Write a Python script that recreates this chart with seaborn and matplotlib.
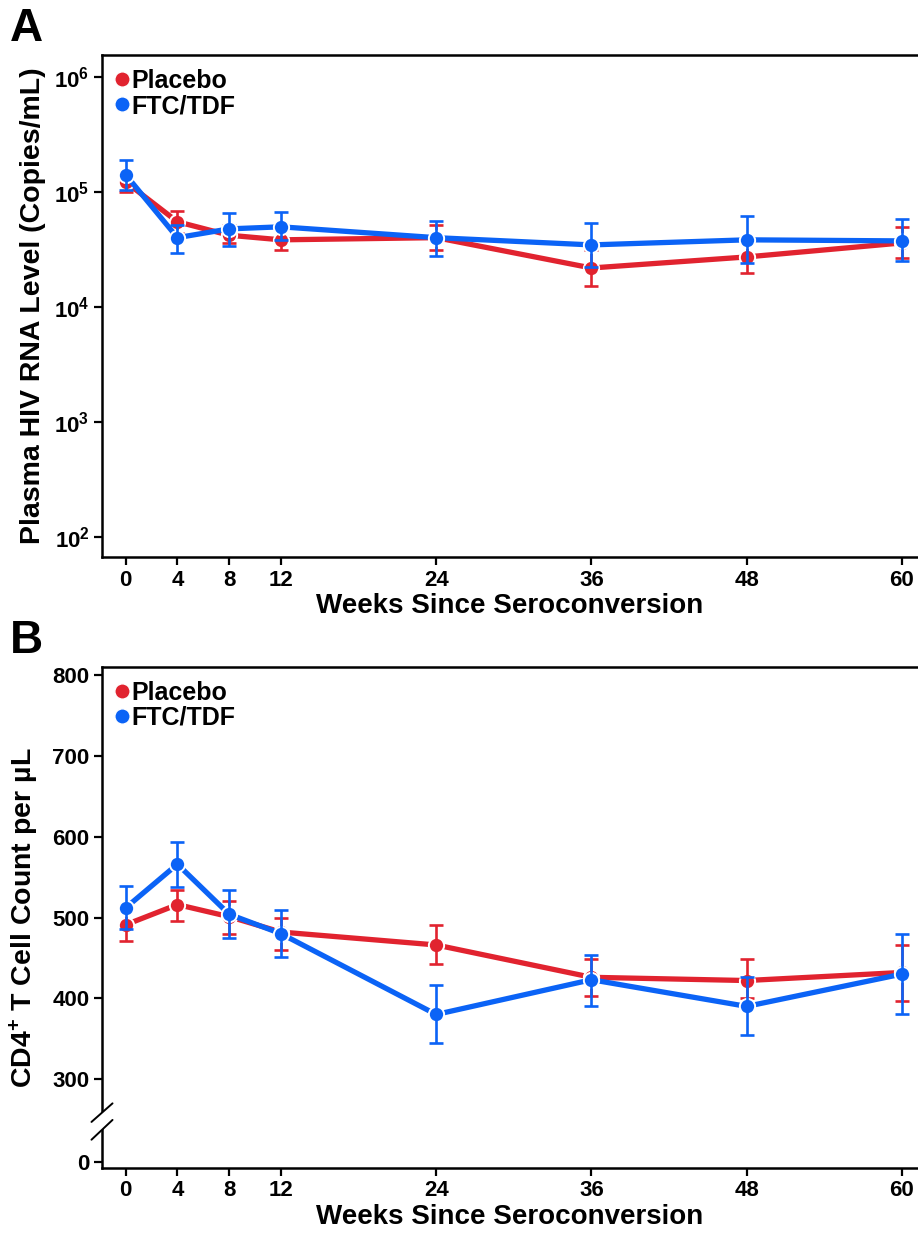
import numpy as np
import pandas as pd
import matplotlib
matplotlib.use("Agg")
import matplotlib.pyplot as plt
import seaborn as sns
from matplotlib.lines import Line2D
from matplotlib.patches import Polygon
import matplotlib.transforms as mtransforms

# ---------------- data ----------------
weeks = [0, 4, 8, 12, 24, 36, 48, 60]
groups = ["Placebo", "FTC/TDF"]

rna_placebo = [1.22e5, 5.5e4, 4.2e4, 3.83e4, 4.0e4, 2.18e4, 2.72e4, 3.6e4]
rna_placebo_lo = [1.0e5, 4.4e4, 3.6e4, 3.13e4, 3.13e4, 1.52e4, 1.98e4, 2.67e4]
rna_placebo_hi = [1.45e5, 6.8e4, 5.2e4, 4.9e4, 5.2e4, 3.1e4, 3.8e4, 4.97e4]
rna_ftc = [1.41e5, 4.0e4, 4.77e4, 4.97e4, 4.0e4, 3.46e4, 3.83e4, 3.75e4]
rna_ftc_lo = [1.04e5, 2.95e4, 3.4e4, 3.8e4, 2.77e4, 2.23e4, 2.4e4, 2.5e4]
rna_ftc_hi = [1.90e5, 5.2e4, 6.6e4, 6.7e4, 5.6e4, 5.4e4, 6.2e4, 5.8e4]

cd4_placebo = [491, 516, 501, 482, 466, 426, 422, 432]
cd4_placebo_lo = [471, 496, 479, 460, 442, 403, 400, 397]
cd4_placebo_hi = [510, 534, 520, 500, 491, 449, 449, 466]
cd4_ftc = [512, 566, 504, 480, 380, 423, 390, 430]
cd4_ftc_lo = [486, 538, 475, 451, 345, 391, 354, 381]
cd4_ftc_hi = [539, 594, 534, 509, 416, 454, 426, 479]

rna_ticks = [1e2, 1e3, 1e4, 1e5, 1e6]
rna_ticklabels = [r"$\mathbf{10^{2}}$", r"$\mathbf{10^{3}}$", r"$\mathbf{10^{4}}$",
                  r"$\mathbf{10^{5}}$", r"$\mathbf{10^{6}}$"]
cd4_ticklabels = ["0", "300", "400", "500", "600", "700", "800"]

# ---------------- style ----------------
sns.set_style("ticks")
plt.rcParams["font.family"] = ["Liberation Sans", "DejaVu Sans"]
plt.rcParams["font.weight"] = "bold"
plt.rcParams["text.color"] = "black"
plt.rcParams["axes.labelcolor"] = "black"
plt.rcParams["xtick.color"] = "black"
plt.rcParams["ytick.color"] = "black"
plt.rcParams["mathtext.fontset"] = "custom"
plt.rcParams["mathtext.bf"] = "Liberation Sans:bold"
plt.rcParams["mathtext.rm"] = "Liberation Sans:bold"
plt.rcParams["mathtext.it"] = "Liberation Sans:bold:italic"

RED = "#e1232f"
BLUE = "#0b63f6"
palette = {"Placebo": RED, "FTC/TDF": BLUE}

fig = plt.figure(figsize=(9.18, 12.4), dpi=100)
W, H = 918, 1240
axA = fig.add_axes([102 / W, 1 - 557 / H, (918 - 102) / W, (557 - 55) / H])
axB = fig.add_axes([102 / W, 1 - 1168 / H, (918 - 102) / W, (1168 - 667) / H])


def make_df(p, f):
    return pd.DataFrame({
        "week": weeks * 2,
        "value": list(p) + list(f),
        "group": ["Placebo"] * len(weeks) + ["FTC/TDF"] * len(weeks),
    })


def draw(ax, p, plo, phi, f, flo, fhi):
    df = make_df(p, f)
    for g, c, lo, hi, v, z in [("Placebo", RED, plo, phi, p, 2),
                               ("FTC/TDF", BLUE, flo, fhi, f, 4)]:
        sub = df[df.group == g]
        sns.lineplot(data=sub, x="week", y="value", color=c, lw=3.8,
                     marker="o", markersize=11, markeredgecolor="white",
                     markeredgewidth=1.4, errorbar=None, ax=ax, zorder=z,
                     legend=False)
        v = np.array(v)
        yerr = np.vstack([v - np.array(lo), np.array(hi) - v])
        ax.errorbar(weeks, v, yerr=yerr, fmt="none", ecolor=c, elinewidth=1.9,
                    capsize=5, capthick=1.9, zorder=z + 0.5)
    handles = [Line2D([], [], ls="none", marker="o", markersize=11,
                      markerfacecolor=palette[g], markeredgecolor="white",
                      markeredgewidth=1.0) for g in groups]
    ax.legend(handles, groups, loc="upper left", frameon=False,
              prop={"size": 18, "weight": "bold"}, handlelength=0.5,
              handletextpad=0.12, labelspacing=0.05, borderaxespad=0.3,
              borderpad=0.25, labelcolor="black")


draw(axA, rna_placebo, rna_placebo_lo, rna_placebo_hi, rna_ftc, rna_ftc_lo, rna_ftc_hi)
draw(axB, cd4_placebo, cd4_placebo_lo, cd4_placebo_hi, cd4_ftc, cd4_ftc_lo, cd4_ftc_hi)

for ax in (axA, axB):
    ax.set_xlim(-1.83, 61.24)
    ax.set_xticks(weeks)
    ax.set_xticklabels([str(w) for w in weeks])
    ax.set_xlabel("Weeks Since Seroconversion", fontsize=20, fontweight="bold",
                  labelpad=2, color="black")
    ax.tick_params(axis="both", direction="out", length=6, width=1.6,
                   labelsize=16, pad=3, color="black", labelcolor="black")
    for lab in ax.get_xticklabels() + ax.get_yticklabels():
        lab.set_fontweight("bold")
    for s in ("left", "bottom", "top"):
        ax.spines[s].set_linewidth(1.8)
        ax.spines[s].set_color("black")
    ax.spines["right"].set_visible(False)

# Panel A axis
axA.set_yscale("log")
axA.set_ylim(10 ** 1.826, 10 ** 6.19)
axA.set_yticks(rna_ticks)
axA.set_yticklabels(rna_ticklabels)
axA.yaxis.set_minor_locator(matplotlib.ticker.NullLocator())
axA.set_ylabel("Plasma HIV RNA Level (Copies/mL)", fontsize=20.5,
               fontweight="bold", labelpad=6, color="black")

# Panel B axis (broken between 0 and 300)
axB.set_ylim(190, 810)
axB.set_yticks([198, 300, 400, 500, 600, 700, 800])
axB.set_yticklabels(cd4_ticklabels)
axB.set_ylabel(r"CD4$^{\mathbf{+}}$ T Cell Count per µL", fontsize=20.5,
               fontweight="bold", labelpad=8, color="black")

# axis break marks
trans = mtransforms.blended_transform_factory(axB.transAxes, axB.transData)
dx = 0.0129
gap = Polygon([(-dx, 247), (dx, 270), (dx, 249.5), (-dx, 225)], closed=True,
              facecolor="white", edgecolor="none", transform=trans,
              clip_on=False, zorder=10)
axB.add_patch(gap)
axB.add_line(Line2D([-dx, dx], [247, 270], color="black", lw=1.4,
                    transform=trans, clip_on=False, zorder=11))
axB.add_line(Line2D([-dx, dx], [225, 249.5], color="black", lw=1.4,
                    transform=trans, clip_on=False, zorder=11))

# panel letters
fig.text(10 / W, 1 - 41 / H, "A", fontsize=33, fontweight="bold", va="baseline")
fig.text(10 / W, 1 - 653 / H, "B", fontsize=33, fontweight="bold", va="baseline")

fig.savefig("out.png", dpi=100)
